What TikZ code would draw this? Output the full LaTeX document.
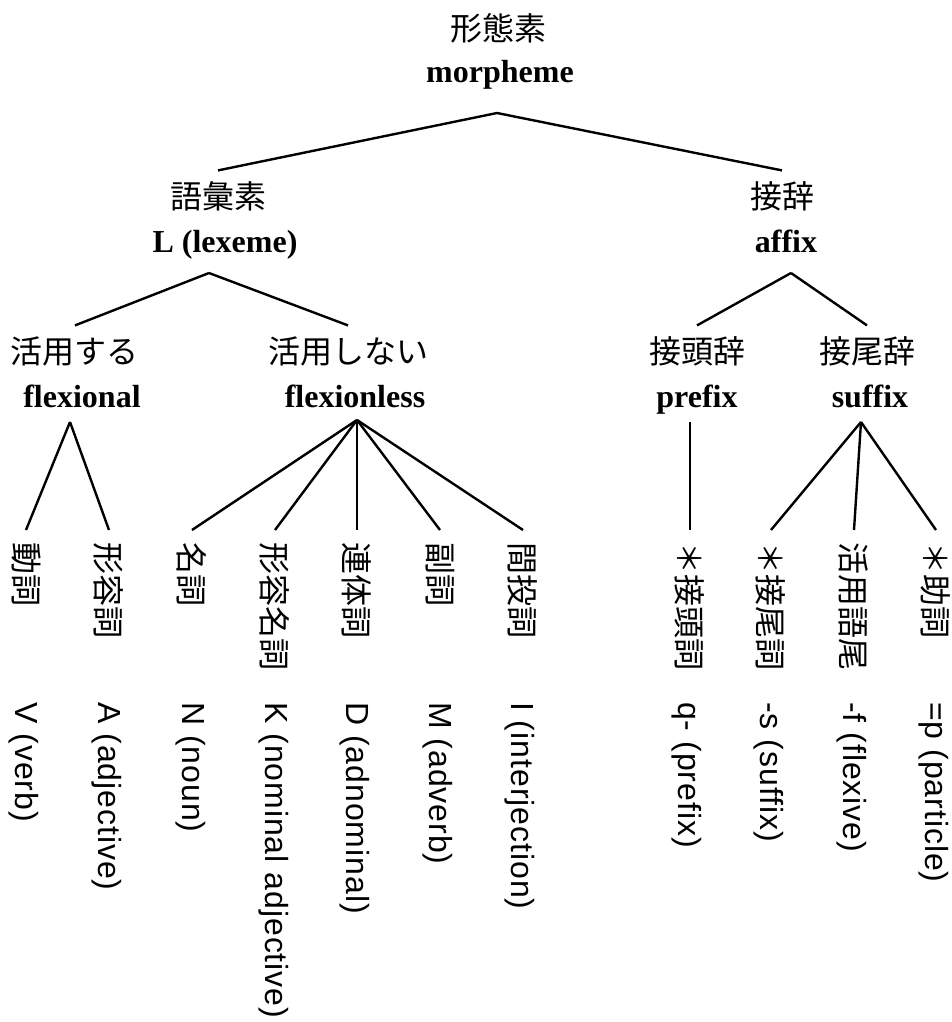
\documentclass[tikz,border=0pt]{standalone}
\usepackage{fontspec}
\setmainfont{Liberation Serif}
\newfontfamily\jafont{Noto Sans CJK JP}
\newfontfamily\glossfont[LetterSpace=3.0]{Liberation Sans}
\usetikzlibrary{positioning}

\begin{document}
\begin{tikzpicture}[
  x=0.75pt, y=-0.75pt,
  ja/.style={anchor=base, inner sep=0pt, outer sep=9pt, text height=19.2pt,
    text depth=2.4pt, font=\jafont\fontsize{24}{28}\selectfont},
  en/.style={anchor=base, inner sep=0pt, font=\bfseries\fontsize{24}{28}\selectfont},
  leaf/.style={rotate=-90, anchor=west, inner sep=0pt, outer sep=9pt,
    font=\jafont\fontsize{24}{28}\selectfont},
  gloss/.style={rotate=-90, anchor=west, inner sep=0pt,
    font=\glossfont\fontsize{24}{28}\selectfont},
  branch/.style={line width=1.8pt}
]
  \useasboundingbox (0,0) rectangle (951,1022);

  % top levels
  \node[ja] (morphJa) at (498,40) {形態素};
  \node[en] (morphEn) at (500,82) {morpheme};
  \node[ja] (lexJa) at (218,208) {語彙素};
  \node[en] (lexEn) at (225,252) {L (lexeme)};
  \node[ja] (affJa) at (782,208) {接辞};
  \node[en] (affEn) at (786,252) {affix};

  \node[ja] (flexJa) at (75,363) {活用する};
  \node[en] (flexEn) at (82,407) {flexional};
  \node[ja] (flexlJa) at (348,363) {活用しない};
  \node[en] (flexlEn) at (355,407) {flexionless};
  \node[ja] (preJa) at (697,363) {接頭辞};
  \node[en] (preEn) at (697,407) {prefix};
  \node[ja] (sufJa) at (867,363) {接尾辞};
  \node[en] (sufEn) at (870,407) {suffix};

  \coordinate (morphB) at (497,113);
  \coordinate (lexB) at (209,273);
  \coordinate (affB) at (791,273);
  \coordinate (flexB) at (70,422);
  \coordinate (flexlB) at (357,420);
  \coordinate (preB) at (690,422);
  \coordinate (sufB) at (861,422);

  % leaves
  \node[leaf] (verbJa) at (26,530) {動詞};
  \node[leaf] (adjJa) at (109,530) {形容詞};
  \node[leaf] (nounJa) at (192,530) {名詞};
  \node[leaf] (nadjJa) at (275,530) {形容名詞};
  \node[leaf] (adnJa) at (357,530) {連体詞};
  \node[leaf] (advJa) at (440,530) {副詞};
  \node[leaf] (intJa) at (523,530) {間投詞};
  \node[leaf] (qJa) at (690,530) {＊接頭詞};
  \node[leaf] (sJa) at (771,530) {＊接尾詞};
  \node[leaf] (fJa) at (854,530) {活用語尾};
  \node[leaf] (pJa) at (936,530) {＊助詞};

  \node[gloss] (verbEn) at (24,702) {V (verb)};
  \node[gloss] (adjEn) at (107,702) {A (adjective)};
  \node[gloss] (nounEn) at (191,702) {N (noun)};
  \node[gloss] (nadjEn) at (274,702) {K (nominal adjective)};
  \node[gloss] (adnEn) at (355,702) {D (adnominal)};
  \node[gloss] (advEn) at (438,702) {M (adverb)};
  \node[gloss] (intEn) at (520,702) {I (interjection)};
  \node[gloss] (qEn) at (687,702) {q- (prefix)};
  \node[gloss] (sEn) at (769,702) {-s (suffix)};
  \node[gloss] (fEn) at (852,702) {-f (flexive)};
  \node[gloss] (pEn) at (934,702) {=p (particle)};

  \draw[branch] (morphB) -- (lexJa.north);
  \draw[branch] (morphB) -- (affJa.north);
  \draw[branch] (lexB) -- (flexJa.north);
  \draw[branch] (lexB) -- (flexlJa.north);
  \draw[branch] (affB) -- (preJa.north);
  \draw[branch] (affB) -- (sufJa.north);

  \draw[branch] (flexB) -- (verbJa.west);
  \draw[branch] (flexB) -- (adjJa.west);
  \draw[branch] (flexlB) -- (nounJa.west);
  \draw[branch] (flexlB) -- (nadjJa.west);
  \draw[branch] (flexlB) -- (adnJa.west);
  \draw[branch] (flexlB) -- (advJa.west);
  \draw[branch] (flexlB) -- (intJa.west);
  \draw[branch] (preB) -- (qJa.west);
  \draw[branch] (sufB) -- (sJa.west);
  \draw[branch] (sufB) -- (fJa.west);
  \draw[branch] (sufB) -- (pJa.west);
\end{tikzpicture}
\end{document}
